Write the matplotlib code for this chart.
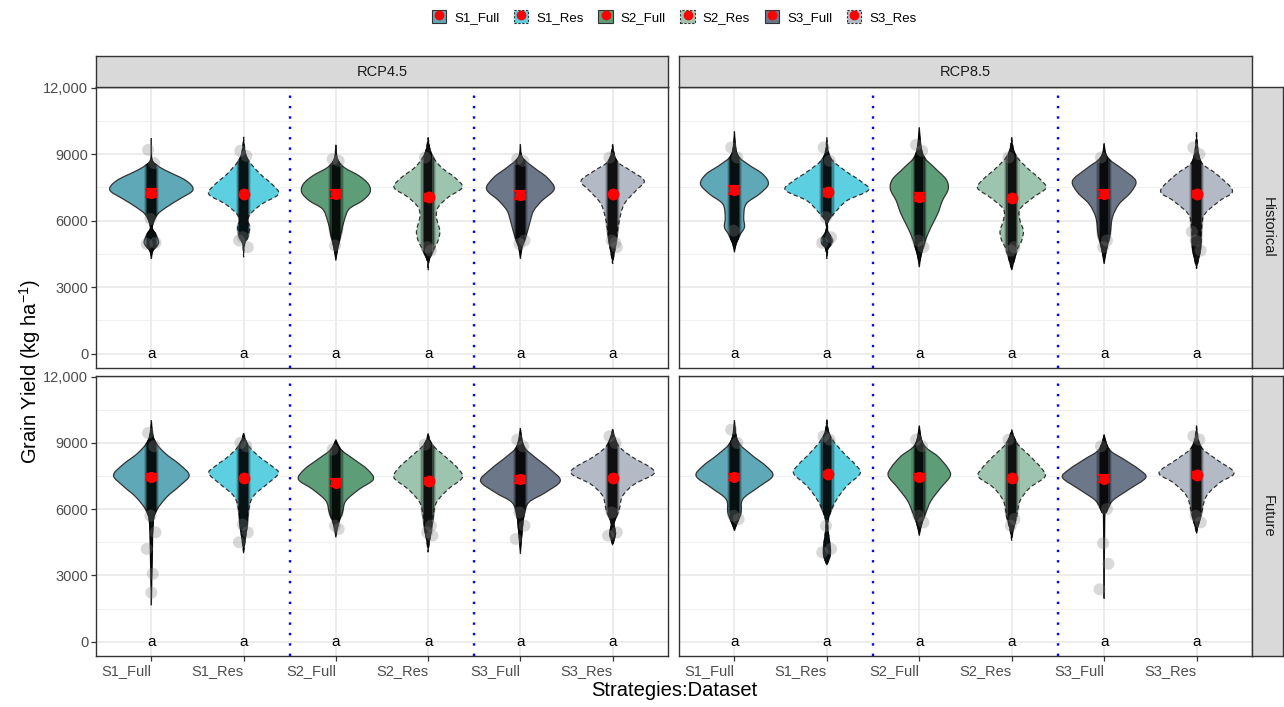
import numpy as np
import matplotlib
matplotlib.use('Agg')
import matplotlib.pyplot as plt
from matplotlib.path import Path
from matplotlib.patches import PathPatch, Rectangle, Patch
from matplotlib.lines import Line2D
from matplotlib.legend_handler import HandlerTuple

plt.rcParams['font.family'] = ['Liberation Sans', 'DejaVu Sans']
plt.rcParams['mathtext.fontset'] = 'custom'
plt.rcParams['mathtext.rm'] = 'Liberation Sans'
plt.rcParams['mathtext.it'] = 'Liberation Sans:italic'
plt.rcParams['mathtext.bf'] = 'Liberation Sans:bold'

# ---------------- data ----------------
STRATEGIES = ['S1_Full', 'S1_Res', 'S2_Full', 'S2_Res', 'S3_Full', 'S3_Res']
SCENARIOS = ['RCP4.5', 'RCP8.5']
PERIODS = ['Historical', 'Future']
Y_TICKS = [0, 3000, 6000, 9000, 12000]
Y_TICK_LABELS = ['0', '3000', '6000', '9000', '12,000']
LETTERS = ['a', 'a', 'a', 'a', 'a', 'a']
FILL_COLORS = ['#5ea8b7', '#5ccfe1', '#5d9e79', '#9dc4ae', '#6d778a', '#b3b9c5']

# violin outlines: yield levels (kg/ha, top->bottom) and half-widths (category units)
HIST45_Y = [
    [9720, 8775, 8475, 8250, 7800, 7380, 6975, 6600, 6225, 5700, 5400, 5000, 4650, 4275],
    [9780, 9075, 8700, 8100, 7650, 7200, 6750, 6300, 6000, 5700, 5250, 4950, 4350],
    [9420, 8775, 8400, 8025, 7650, 7275, 6900, 6525, 6000, 5400, 4800, 4200],
    [9750, 9000, 8400, 7950, 7500, 7050, 6600, 6150, 5550, 5100, 4650, 4200, 3750],
    [9450, 8850, 8400, 7950, 7425, 6900, 6450, 6000, 5550, 5100, 4800, 4275],
    [9450, 8700, 8250, 7800, 7350, 6750, 6000, 5250, 4650, 4050],
]
HIST45_W = [
    [0, 0.007, 0.07, 0.162, 0.378, 0.45, 0.306, 0.162, 0.054, 0.011, 0.043, 0.079, 0.018, 0],
    [0, 0.018, 0.054, 0.18, 0.306, 0.378, 0.198, 0.072, 0.043, 0.065, 0.043, 0.011, 0],
    [0, 0.018, 0.09, 0.25, 0.353, 0.37, 0.288, 0.144, 0.09, 0.054, 0.022, 0],
    [0, 0.036, 0.144, 0.288, 0.37, 0.216, 0.108, 0.09, 0.126, 0.108, 0.054, 0.011, 0],
    [0, 0.022, 0.144, 0.288, 0.367, 0.234, 0.144, 0.108, 0.079, 0.043, 0.018, 0],
    [0, 0.043, 0.198, 0.342, 0.252, 0.126, 0.072, 0.043, 0.022, 0],
]
HIST85_Y = [
    [10020, 9000, 8550, 8100, 7650, 7200, 6750, 6150, 5700, 5325, 4950, 4575],
    [9750, 8850, 8250, 7800, 7380, 6900, 6375, 6000, 5550, 5175, 4950, 4725, 4275],
    [10200, 9000, 8400, 7875, 7425, 6900, 6300, 5700, 5100, 4500, 3900],
    [9750, 9000, 8400, 7875, 7470, 7050, 6525, 6000, 5550, 5100, 4650, 3750],
    [9480, 8850, 8325, 7800, 7275, 6750, 6150, 5400, 4800, 4050],
    [9975, 9000, 8550, 8100, 7350, 6900, 6300, 5700, 4800, 3825],
]
HIST85_W = [
    [0, 0.029, 0.144, 0.306, 0.367, 0.27, 0.126, 0.1, 0.108, 0.054, 0.018, 0],
    [0, 0.036, 0.198, 0.36, 0.45, 0.216, 0.09, 0.018, 0.011, 0.054, 0.05, 0.014, 0],
    [0, 0.036, 0.162, 0.288, 0.313, 0.25, 0.198, 0.126, 0.065, 0.022, 0],
    [0, 0.036, 0.162, 0.306, 0.37, 0.234, 0.09, 0.09, 0.126, 0.108, 0.054, 0],
    [0, 0.036, 0.198, 0.342, 0.288, 0.162, 0.09, 0.065, 0.029, 0],
    [0, 0.022, 0.065, 0.216, 0.389, 0.252, 0.09, 0.054, 0.043, 0],
]
FUT45_Y = [
    [10020, 9150, 8550, 8025, 7530, 7050, 6525, 5850, 5250, 4050, 1650],
    [9450, 8925, 8400, 7950, 7620, 7125, 6600, 6000, 5250, 4650, 3975],
    [9150, 8700, 8250, 7800, 7350, 6900, 6375, 5850, 5400, 4725],
    [9420, 8925, 8400, 7875, 7425, 6900, 6300, 5700, 5100, 4650, 4050],
    [9675, 8850, 8400, 7800, 7275, 6750, 6300, 5700, 4950, 3975],
    [9630, 8925, 8400, 7875, 7575, 7125, 6600, 6000, 5400, 4875, 4350],
]
FUT45_W = [
    [0, 0.029, 0.144, 0.306, 0.41, 0.306, 0.162, 0.043, 0.018, 0.011, 0],
    [0, 0.043, 0.162, 0.306, 0.378, 0.252, 0.108, 0.054, 0.036, 0.018, 0],
    [0, 0.054, 0.198, 0.342, 0.406, 0.252, 0.108, 0.072, 0.029, 0],
    [0, 0.043, 0.18, 0.317, 0.37, 0.216, 0.09, 0.054, 0.036, 0.018, 0],
    [0, 0.036, 0.144, 0.324, 0.432, 0.27, 0.09, 0.036, 0.018, 0],
    [0, 0.054, 0.198, 0.414, 0.44, 0.234, 0.108, 0.072, 0.018, 0.029, 0],
]
FUT85_Y = [
    [10020, 9075, 8475, 7950, 7500, 6975, 6450, 5850, 5475, 5025],
    [10050, 9300, 8550, 8025, 7620, 7050, 6450, 5850, 5250, 4050, 3450],
    [9780, 8925, 8400, 7875, 7500, 6975, 6375, 5850, 5400, 4800],
    [9600, 9000, 8400, 7875, 7470, 6975, 6375, 5700, 5175, 4575],
    [9375, 8700, 8250, 7800, 7425, 6900, 6375, 5850, 5550, 1950],
    [9780, 8850, 8250, 7650, 7200, 6600, 5850, 5250, 4875],
]
FUT85_W = [
    [0, 0.036, 0.18, 0.342, 0.414, 0.252, 0.09, 0.072, 0.036, 0],
    [0, 0.036, 0.18, 0.306, 0.36, 0.216, 0.108, 0.036, 0.011, 0.036, 0],
    [0, 0.043, 0.198, 0.306, 0.335, 0.234, 0.126, 0.072, 0.029, 0],
    [0, 0.054, 0.198, 0.317, 0.36, 0.198, 0.09, 0.054, 0.022, 0],
    [0, 0.054, 0.216, 0.378, 0.45, 0.27, 0.09, 0.022, 0.007, 0],
    [0, 0.043, 0.216, 0.406, 0.252, 0.108, 0.054, 0.018, 0],
]

# means and standard errors (kg/ha)
HIST45_MEAN = [7230, 7200, 7200, 7050, 7150, 7200]
HIST85_MEAN = [7380, 7275, 7080, 7020, 7200, 7200]
FUT45_MEAN = [7455, 7395, 7200, 7275, 7350, 7395]
FUT85_MEAN = [7455, 7575, 7455, 7425, 7380, 7545]
HIST45_SE = [180, 150, 180, 150, 180, 150]
HIST85_SE = [180, 150, 180, 150, 180, 150]
FUT45_SE = [150, 130, 150, 130, 150, 130]
FUT85_SE = [150, 130, 150, 130, 150, 130]

# isolated (visible) observations
HIST45_OUT = [[9195, 8595, 6075, 5000, 4950], [9150, 8925, 5250, 4800, 5100],
              [8775, 8700, 4875], [8850, 4650, 4800], [8775, 8700, 4950, 5100],
              [8850, 5000, 5100, 4800]]
HIST85_OUT = [[9300, 8850, 5550], [9300, 8700, 6150, 5250, 5000], [9420, 9150, 5100, 4800],
              [8850, 4800, 4650], [8850, 5100, 4800], [9300, 9000, 5100, 4650, 5500]]
FUT45_OUT = [[9450, 8850, 5700, 4950, 4200, 3075, 2220], [9000, 8850, 5300, 4950, 4500],
             [8700, 5100, 5250], [8925, 5250, 4950, 4800], [9150, 8850, 5850, 5250, 4650],
             [9300, 9000, 5850, 4950, 4800]]
FUT85_OUT = [[9600, 9000, 5700, 5550], [9300, 9150, 5250, 4200, 4050], [9150, 8850, 5700, 5400],
             [9150, 5550, 5250], [8850, 6000, 4455, 3525, 2370], [9300, 9150, 5700, 5400]]

PANELS = {
    ('Historical', 'RCP4.5'): (HIST45_Y, HIST45_W, HIST45_MEAN, HIST45_SE, HIST45_OUT),
    ('Historical', 'RCP8.5'): (HIST85_Y, HIST85_W, HIST85_MEAN, HIST85_SE, HIST85_OUT),
    ('Future', 'RCP4.5'): (FUT45_Y, FUT45_W, FUT45_MEAN, FUT45_SE, FUT45_OUT),
    ('Future', 'RCP8.5'): (FUT85_Y, FUT85_W, FUT85_MEAN, FUT85_SE, FUT85_OUT),
}

# ---------------- helpers ----------------
def side_curve(pts):
    """Catmull-Rom through pts rendered as cubic Bezier segments."""
    P = [pts[0]] + list(pts) + [pts[-1]]
    verts, codes = [], []
    for i in range(1, len(P) - 2):
        p0, p1, p2, p3 = P[i - 1], P[i], P[i + 1], P[i + 2]
        c1 = p1 + (p2 - p0) / 6.0
        c2 = p2 - (p3 - p1) / 6.0
        verts += [c1, c2, p2]
        codes += [Path.CURVE4] * 3
    return verts, codes


def violin_path(center, ys, ws):
    ys = np.asarray(ys, float)
    ws = np.asarray(ws, float)
    right = [np.array([center + w, y]) for y, w in zip(ys, ws)]
    left = [np.array([center - w, y]) for y, w in zip(ys[::-1], ws[::-1])]
    vr, cr = side_curve(right)
    vl, cl = side_curve(left)
    verts = [right[0]] + vr + vl + [right[0]]
    codes = [Path.MOVETO] + cr + cl + [Path.CLOSEPOLY]
    return Path(np.array(verts), codes)


JITTER = [-0.035, 0.03, -0.01, 0.045, -0.05, 0.015, 0.0]
CLOUD_LAYERS = [(0.085, 0.12), (0.072, 0.25), (0.06, 0.45), (0.045, 0.75)]

# ---------------- figure ----------------
W, H = 1284, 707
fig = plt.figure(figsize=(W / 100, H / 100), dpi=100)

col_x = [(96, 668), (679, 1252)]
row_y = [(87, 368), (376, 656)]

def fr(x0, y0, x1, y1):
    return [x0 / W, 1 - y1 / H, (x1 - x0) / W, (y1 - y0) / H]

for ri, period in enumerate(PERIODS):
    for ci, scen in enumerate(SCENARIOS):
        x0, x1 = col_x[ci]
        y0, y1 = row_y[ri]
        ax = fig.add_axes(fr(x0, y0, x1, y1))
        ys_all, ws_all, means, ses, outs = PANELS[(period, scen)]
        xs = np.arange(1, len(STRATEGIES) + 1)
        ax.set_xlim(0.4, 6.6)
        ax.set_ylim(-650, 12030)
        ax.set_axisbelow(True)
        # grid
        for yv in [1500, 4500, 7500, 10500]:
            ax.axhline(yv, color='#F0F0F0', lw=0.7, zorder=0)
        for yv in Y_TICKS:
            ax.axhline(yv, color='#EBEBEB', lw=1.3, zorder=0)
        for xv in xs:
            ax.axvline(xv, color='#EBEBEB', lw=1.3, zorder=0)
        for k, strat in enumerate(STRATEGIES):
            c = xs[k]
            res = strat.endswith('Res')
            wk = np.asarray(ws_all[k], float)
            path = violin_path(c, ys_all[k], wk)
            vp = PathPatch(path, facecolor=FILL_COLORS[k], edgecolor='#333333',
                           lw=0.9, zorder=2,
                           linestyle=(0, (3.5, 2.2)) if res else '-')
            ax.add_patch(vp)
            # cloud of overlapping observations, soft-edged
            cloud_path = violin_path(c, ys_all[k], wk * 1.3)
            for hw, al in CLOUD_LAYERS:
                layer = PathPatch(cloud_path, facecolor='black', edgecolor='none',
                                  alpha=al, zorder=3)
                ax.add_patch(layer)
                layer.set_clip_path(Rectangle((c - hw, -1000), 2 * hw, 14000,
                                              transform=ax.transData))
            # isolated observations
            oy = outs[k]
            ox = [c + JITTER[j % len(JITTER)] for j in range(len(oy))]
            ax.scatter(ox, oy, s=75, color='#808080', alpha=0.3, edgecolors='none', zorder=4)
            # mean +/- se
            if res:
                ax.errorbar(c - 0.012, means[k], yerr=ses[k], color='red', lw=1.6,
                            capsize=2, capthick=1.6, zorder=5, fmt='none')
                ax.plot(c + 0.008, means[k], 'o', color='red', ms=7.5, zorder=6)
            else:
                ax.errorbar(c, means[k], yerr=ses[k], color='red', lw=1.6,
                            capsize=4, capthick=1.6, zorder=5, fmt='none')
                ax.plot(c, means[k], 'o', color='red', ms=7, zorder=6)
            ax.text(c, 0, LETTERS[k], ha='center', va='center', fontsize=11,
                    color='black', zorder=7)
        for xv in [2.5, 4.5]:
            ax.axvline(xv, color='blue', lw=1.7, linestyle=(0, (1, 3.4)), zorder=1.5)
        for sp in ax.spines.values():
            sp.set_color('#333333')
            sp.set_linewidth(1.0)
            sp.set_zorder(8)
        ax.set_yticks(Y_TICKS)
        ax.set_xticks(xs)
        ax.tick_params(axis='both', colors='#333333', length=3.5, width=0.9,
                       labelcolor='#4D4D4D', labelsize=10.5, pad=2)
        if ci == 0:
            ax.set_yticklabels(Y_TICK_LABELS)
        else:
            ax.tick_params(axis='y', length=0, labelleft=False)
        if ri == 1:
            ax.set_xticklabels(STRATEGIES, ha='right')
        else:
            ax.tick_params(axis='x', length=0, labelbottom=False)

# top strips
for ci, scen in enumerate(SCENARIOS):
    x0, x1 = col_x[ci]
    sax = fig.add_axes(fr(x0, 56, x1, 87))
    sax.set_facecolor('#D9D9D9')
    sax.set_xticks([]); sax.set_yticks([])
    for sp in sax.spines.values():
        sp.set_color('#333333'); sp.set_linewidth(1.0)
    sax.text(0.5, 0.5, scen, ha='center', va='center', fontsize=10.5,
             color='#1A1A1A', transform=sax.transAxes)

# right strips
for ri, period in enumerate(PERIODS):
    y0, y1 = row_y[ri]
    sax = fig.add_axes(fr(1252, y0, 1283, y1))
    sax.set_facecolor('#D9D9D9')
    sax.set_xticks([]); sax.set_yticks([])
    for sp in sax.spines.values():
        sp.set_color('#333333'); sp.set_linewidth(1.0)
    sax.text(0.5, 0.5, period, ha='center', va='center', fontsize=10.5,
             rotation=-90, color='#1A1A1A', transform=sax.transAxes)

# axis titles
fig.text(30 / W, 1 - 371 / H, 'Grain Yield (kg ha$^{-1}$)', rotation=90,
         ha='center', va='center', fontsize=14.5, color='black')
fig.text(674 / W, 1 - 690 / H, 'Strategies:Dataset', ha='center', va='center',
         fontsize=14.5, color='black')

# legend
handles = []
for k, strat in enumerate(STRATEGIES):
    res = strat.endswith('Res')
    p = Patch(facecolor=FILL_COLORS[k], edgecolor='#333333', lw=0.8,
              linestyle=(0, (2, 1.5)) if res else '-')
    d = Line2D([], [], marker='o', color='red', ls='none', ms=6)
    handles.append((p, d))
fig.legend(handles, STRATEGIES, handler_map={tuple: HandlerTuple(ndivide=1)},
           ncol=6, loc='center', bbox_to_anchor=(674 / W, 1 - 17 / H), frameon=False,
           handlelength=1.1, handleheight=1.1, handletextpad=0.6, columnspacing=1.1,
           fontsize=9.5)

fig.savefig('out.png', dpi=100)
